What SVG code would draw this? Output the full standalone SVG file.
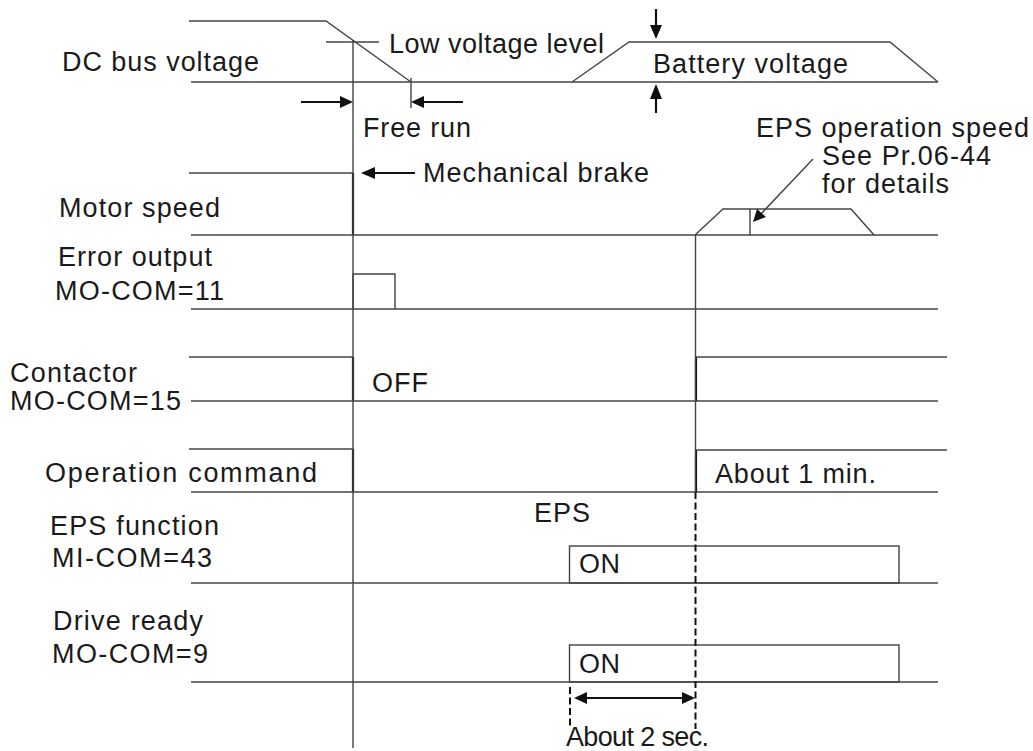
<svg xmlns="http://www.w3.org/2000/svg" width="1033" height="751" viewBox="0 0 1033 751">
<style>
text{font-family:"Liberation Sans",Arial,sans-serif;font-size:27px;fill:#1a1a1a}
.ln{stroke:#444;stroke-width:1.4;fill:none}
.th{stroke:#111;stroke-width:2.2;fill:none}
.ds{stroke:#111;stroke-width:2;fill:none;stroke-dasharray:7,3.5}
.ah{fill:#111;stroke:none}
</style>
<rect width="1033" height="751" fill="#fff"/>
<g id="dc-bus">
<text x="62" y="71" textLength="197" lengthAdjust="spacing">DC bus voltage</text>
<polyline class="ln" points="189,21 326,21 411,82"/>
<line class="ln" x1="191" y1="82" x2="938" y2="82"/>
<line class="ln" x1="326" y1="42" x2="379" y2="42"/>
<text x="389" y="53" textLength="215" lengthAdjust="spacing">Low voltage level</text>
<polyline class="ln" points="572,82 629,42 890,42 938,82"/>
<text x="653" y="73" textLength="195" lengthAdjust="spacing">Battery voltage</text>
</g>
<g id="motor-speed">
<polyline class="ln" points="189,173 353,173"/>
<line class="th" x1="353" y1="173" x2="353" y2="235"/>
<line class="ln" x1="191" y1="235" x2="938" y2="235"/>
<text x="59" y="217" textLength="161" lengthAdjust="spacing">Motor speed</text>
<polyline class="ln" points="695,235 723,209 851,209 874,235"/>
<line class="ln" x1="750" y1="209" x2="750" y2="235"/>
<text x="756" y="137" textLength="273" lengthAdjust="spacing">EPS operation speed</text>
<text x="822" y="165" textLength="169" lengthAdjust="spacing">See Pr.06-44</text>
<text x="822" y="193" textLength="127" lengthAdjust="spacing">for details</text>
<text x="423" y="182" textLength="226" lengthAdjust="spacing">Mechanical brake</text>
<text x="363" y="137" textLength="108" lengthAdjust="spacing">Free run</text>
</g>
<g id="error-output">
<text x="58" y="266" textLength="154" lengthAdjust="spacing">Error output</text>
<text x="55" y="300" textLength="169" lengthAdjust="spacing">MO-COM=11</text>
<line class="ln" x1="191" y1="309" x2="938" y2="309"/>
<polyline class="ln" points="353,309 353,274 395,274 395,309"/>
</g>
<g id="contactor">
<text x="10" y="382" textLength="127" lengthAdjust="spacing">Contactor</text>
<text x="10" y="410" textLength="171" lengthAdjust="spacing">MO-COM=15</text>
<line class="ln" x1="189" y1="357" x2="353" y2="357"/>
<line class="th" x1="353" y1="357" x2="353" y2="401"/>
<line class="ln" x1="191" y1="401" x2="938" y2="401"/>
<text x="372" y="392" textLength="56" lengthAdjust="spacing">OFF</text>
<line class="th" x1="696" y1="401" x2="696" y2="357"/>
<line class="ln" x1="696" y1="357" x2="947" y2="357"/>
</g>
<g id="operation-command">
<text x="45" y="482" textLength="272" lengthAdjust="spacing">Operation command</text>
<line class="ln" x1="189" y1="449" x2="353" y2="449"/>
<line class="th" x1="353" y1="449" x2="353" y2="492"/>
<line class="ln" x1="191" y1="492" x2="938" y2="492"/>
<line class="th" x1="696" y1="492" x2="696" y2="450"/>
<line class="ln" x1="696" y1="450" x2="947" y2="450"/>
<text x="715" y="483" textLength="161" lengthAdjust="spacing">About 1 min.</text>
</g>
<g id="eps-function">
<text x="50" y="535" textLength="169" lengthAdjust="spacing">EPS function</text>
<text x="52" y="567" textLength="160" lengthAdjust="spacing">MI-COM=43</text>
<line class="ln" x1="191" y1="583" x2="938" y2="583"/>
<rect class="ln" x="569.5" y="546" width="329.5" height="37"/>
<text x="534" y="522" textLength="56" lengthAdjust="spacing">EPS</text>
<text x="579" y="573" textLength="41" lengthAdjust="spacing">ON</text>
</g>
<g id="drive-ready">
<text x="53" y="630" textLength="150" lengthAdjust="spacing">Drive ready</text>
<text x="52" y="663" textLength="156" lengthAdjust="spacing">MO-COM=9</text>
<line class="ln" x1="191" y1="682" x2="938" y2="682"/>
<rect class="ln" x="569.5" y="645" width="329.5" height="37"/>
<text x="579" y="673" textLength="41" lengthAdjust="spacing">ON</text>
<text x="566" y="746" textLength="143" lengthAdjust="spacing">About 2 sec.</text>
</g>
<g id="connectors">
<line class="ln" x1="353" y1="40" x2="353" y2="748"/>
<line class="ln" x1="695.5" y1="235" x2="695.5" y2="492"/>
<line class="ds" x1="695.5" y1="492" x2="695.5" y2="729"/>
<line class="ds" x1="570" y1="687" x2="570" y2="726"/>
<line class="ln" x1="411" y1="78" x2="411" y2="108"/>
<line class="th" x1="301" y1="102" x2="342" y2="102"/>
<polygon class="ah" points="353,102 340,96 340,108"/>
<line class="th" x1="423" y1="102" x2="463" y2="102"/>
<polygon class="ah" points="411,102 424,96 424,108"/>
<line class="th" x1="374" y1="173" x2="415" y2="173"/>
<polygon class="ah" points="361,173 375,167 375,179"/>
<line class="th" x1="656" y1="9" x2="656" y2="27"/>
<polygon class="ah" points="656,39 650,25 662,25"/>
<line class="th" x1="656" y1="97" x2="656" y2="113"/>
<polygon class="ah" points="656,84 650,99 662,99"/>
<line class="ln" x1="813" y1="159" x2="760" y2="215"/>
<polygon class="ah" points="753,222 757,209 766,217"/>
<line class="th" x1="585" y1="698" x2="684" y2="698"/>
<polygon class="ah" points="574,698 587,692 587,704"/>
<polygon class="ah" points="695,698 682,692 682,704"/>
</g>
</svg>
